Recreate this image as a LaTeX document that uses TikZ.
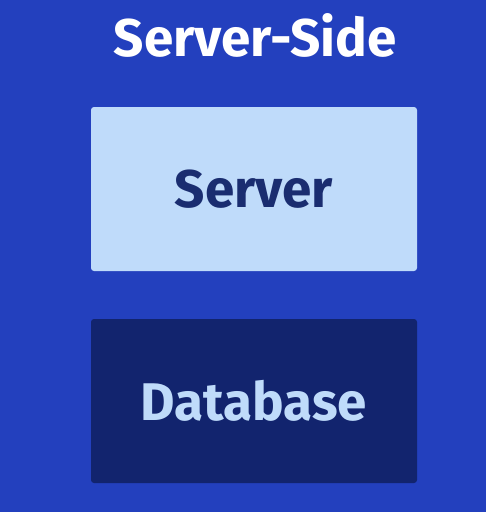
\documentclass[tikz,border=0pt]{standalone}
\usepackage{fontspec}
\setmainfont{Fira Sans}
\usepackage{tikz}

\definecolor{bgblue}{RGB}{35,64,190}
\definecolor{lightbox}{RGB}{191,219,250}
\definecolor{darkbox}{RGB}{18,36,110}
\definecolor{darktext}{RGB}{26,45,112}

\tikzset{
  box/.style={rounded corners=3pt, minimum width=326pt, minimum height=164pt, inner sep=0pt, font=\bfseries\fontsize{53}{64}\selectfont},
}

\begin{document}
\begin{tikzpicture}[x=1pt,y=-1pt]
\fill[bgblue] (0,0) rectangle (486,512) ;
\useasboundingbox (0,0) rectangle (486,512) ;

\node (title) [text=white, font=\bfseries\fontsize{53}{64}\selectfont] at (255,35) {Server-Side} ;
\node (server) [box, fill=lightbox, text=darktext] at (254,189) {Server} ;
\node (database) [box, fill=darkbox, text=lightbox] at (254,401) {Database} ;
\end{tikzpicture}
\end{document}
